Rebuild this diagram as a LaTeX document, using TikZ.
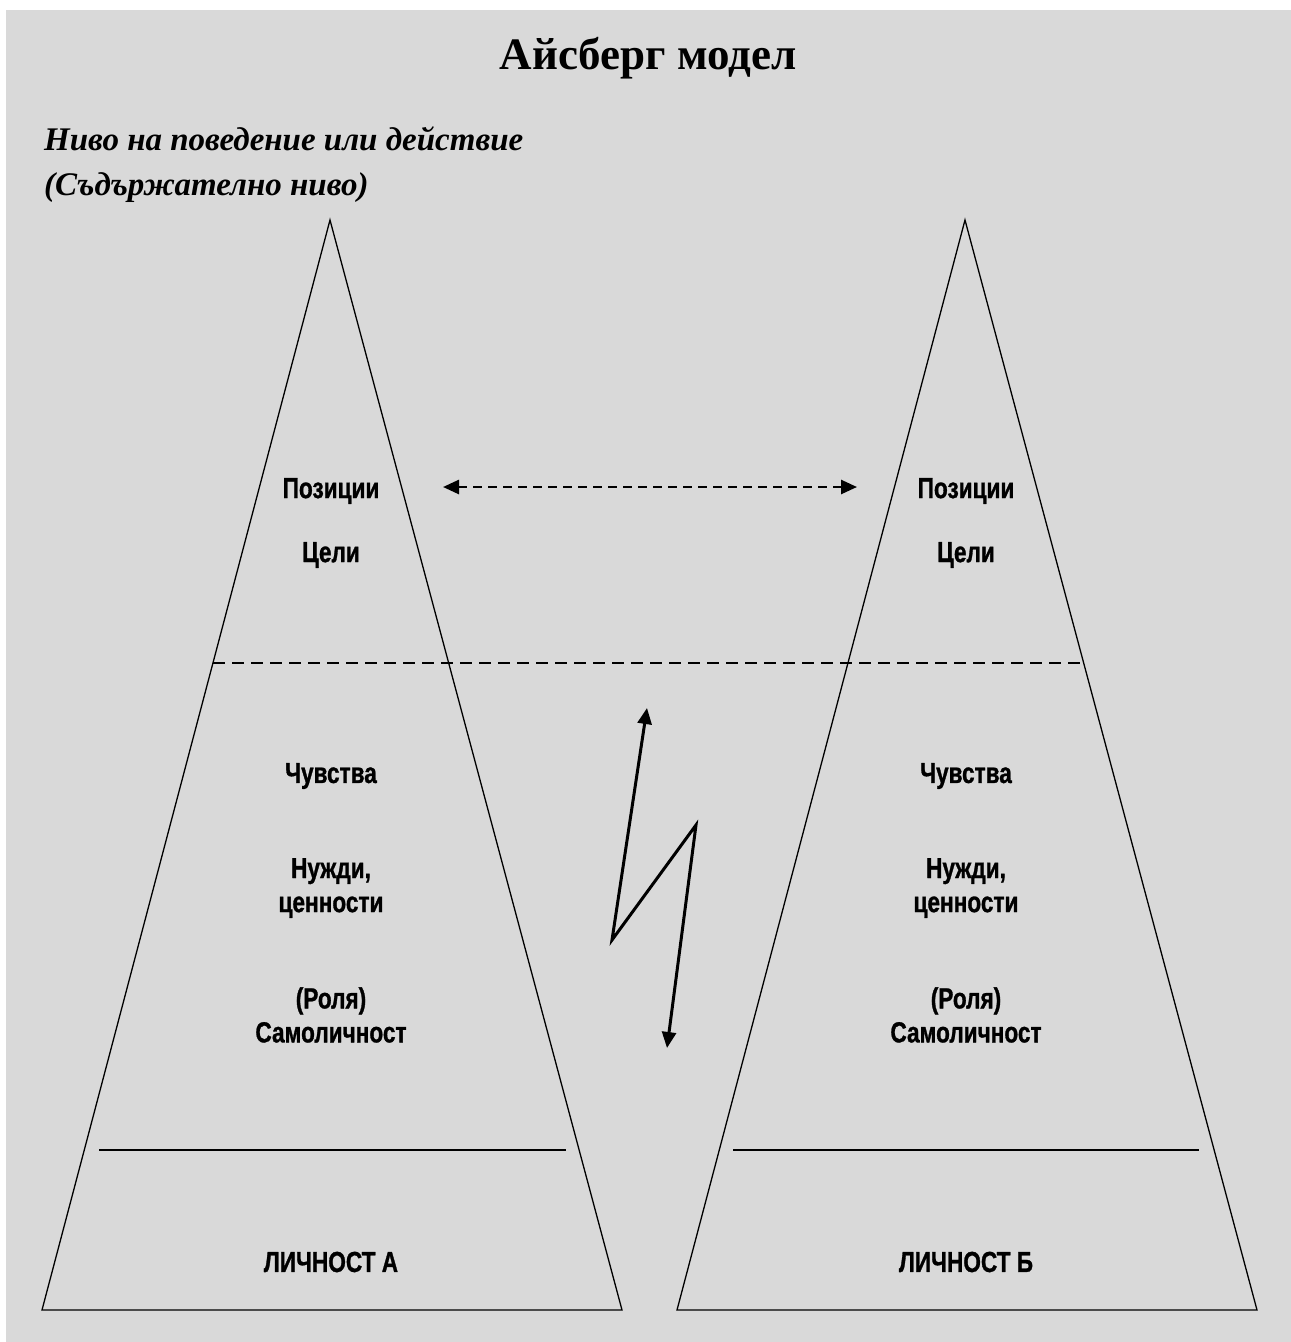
\documentclass[tikz,border=0pt]{standalone}
\usepackage{fontspec}
\setmainfont{Liberation Serif}
\newfontfamily\labfont{Liberation Sans}[FakeStretch=0.78, FakeBold=1]
\usetikzlibrary{arrows.meta}
\definecolor{bggray}{HTML}{D9D9D9}
\tikzset{
  lab/.style={font=\labfont\bfseries\fontsize{29}{34}\selectfont, align=center, inner sep=0pt},
  berg/.style={line width=1.3pt, line join=miter},
  sepline/.style={line width=1.3pt, dash pattern=on 12pt off 7pt},
  baseline/.style={line width=1.8pt},
  darr/.style={line width=2.6pt, dash pattern=on 9pt off 6pt, {Triangle[length=16pt,width=14pt]}-{Triangle[length=16pt,width=14pt]}}
}
\begin{document}
\begin{tikzpicture}[x=1pt,y=-1pt]
\useasboundingbox (0,0) rectangle (1291,1342);
\fill[white] (0,0) rectangle (1291,1342);
\fill[bggray] (6,10) rectangle (1291,1342);

% title
\node[font=\bfseries\fontsize{45}{54}\selectfont] (title) at (648,58) {Айсберг модел};
\node[font=\bfseries\itshape\fontsize{33}{45}\selectfont, align=left, anchor=north west, inner sep=0pt] (lvl) at (44,127) {Ниво на поведение или действие\\(Съдържателно ниво)};

% icebergs
\coordinate (Atop) at (330,220);
\coordinate (Abl) at (42,1310);
\coordinate (Abr) at (622,1310);
\coordinate (Btop) at (965,220);
\coordinate (Bbl) at (677,1310);
\coordinate (Bbr) at (1257,1310);
\draw[berg] (Abl) -- (Atop) -- (Abr) -- cycle;
\draw[berg] (Bbl) -- (Btop) -- (Bbr) -- cycle;

% separating lines
\coordinate (sepL) at (213,663);
\coordinate (sepR) at (1085,663);
\draw[sepline] (sepL) -- (sepR);
\coordinate (aL) at (99,1150);
\coordinate (aR) at (566,1150);
\coordinate (bL) at (733,1150);
\coordinate (bR) at (1199,1150);
\draw[baseline] (aL) -- (aR);
\draw[baseline] (bL) -- (bR);

% labels A
\node[lab] (posA) at (331,491) {Позиции};
\node[lab] (celA) at (331,555) {Цели};
\node[lab] (chuA) at (331,776) {Чувства};
\node[lab] (nuA) at (331,888) {Нужди,\\ценности};
\node[lab] (roA) at (331,1015) {(Роля)\\Самоличност};
\node[lab] (liA) at (331,1262) {ЛИЧНОСТ А};

% labels B
\node[lab] (posB) at (966,491) {Позиции};
\node[lab] (celB) at (966,555) {Цели};
\node[lab] (chuB) at (966,776) {Чувства};
\node[lab] (nuB) at (966,888) {Нужди,\\ценности};
\node[lab] (roB) at (966,1015) {(Роля)\\Самоличност};
\node[lab] (liB) at (966,1262) {ЛИЧНОСТ Б};

% dashed double arrow
\coordinate (dl) at (443,487);
\coordinate (dr) at (857,487);
\draw[darr] (dl) -- (dr);

% lightning
\coordinate (lt) at (647,708);
\coordinate (lv) at (612,940);
\coordinate (rv) at (696,825);
\coordinate (lb) at (667,1048);
\draw[line width=3pt, line join=miter, {Triangle[length=16pt,width=14pt]}-{Triangle[length=16pt,width=14pt]}] (lt) -- (lv) -- (rv) -- (lb);
\end{tikzpicture}
\end{document}
